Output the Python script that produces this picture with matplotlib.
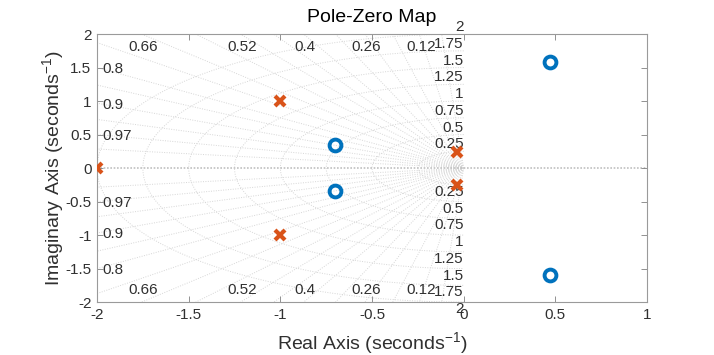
import numpy as np
import matplotlib
matplotlib.use('Agg')
import matplotlib.pyplot as plt

plt.rcParams['font.family'] = ['Liberation Sans', 'DejaVu Sans']
plt.rcParams['mathtext.default'] = 'regular'

# poles and zeros
pole_re = [-2.0, -1.0, -1.0, -0.035, -0.035]
pole_im = [0.0, 1.0, -1.0, 0.245, -0.245]
zero_re = [-0.7, -0.7, 0.47, 0.47]
zero_im = [0.34, -0.34, 1.59, -1.59]

# grid values
zeta_lab = [0.97, 0.9, 0.8, 0.66, 0.52, 0.4, 0.26, 0.12]
zeta_extra = [0.06, 0.19, 0.33, 0.46, 0.59, 0.73, 0.85, 0.94, 0.99]
wn_lab = [0.25, 0.5, 0.75, 1, 1.25, 1.5, 1.75, 2]

xlo, xhi, ylo, yhi = -2, 1, -2, 2
gridc = '#d6d6d6'
txtc = '#303030'

fig = plt.figure(figsize=(7.14, 3.55), dpi=100)
ax = fig.add_axes([0.1359, 0.149, 0.7703, 0.755])

# frequency arcs
th = np.linspace(np.pi / 2, 3 * np.pi / 2, 200)
for w in wn_lab:
    ax.plot(w * np.cos(th), w * np.sin(th), ls=(0, (1, 1.5)), color=gridc, lw=0.7, zorder=1)

# damping lines
for z in zeta_lab + zeta_extra:
    t = np.tan(np.arccos(z))
    xe = -2.0
    ye = -xe * t
    if ye > 2:
        ye = 2.0
        xe = -ye / t
    for s in (1, -1):
        ax.plot([0, xe], [0, s * ye], ls=(0, (1, 1.5)), color=gridc, lw=0.7, zorder=1)

# real axis line
ax.axhline(0, ls=(0, (1, 1)), color='#c0c0c0', lw=1.2, zorder=1)

# damping labels
for z in zeta_lab:
    t = np.tan(np.arccos(z))
    if 2 * t <= 2:
        yv = 2 * t
        for s in (1, -1):
            ax.annotate(f'{z:g}', (-2, s * yv), xytext=(4, -1), textcoords='offset points',
                        ha='left', va='center', fontsize=11, color=txtc)
    else:
        xv = -2 / t
        for s in (1, -1):
            ax.annotate(f'{z:g}', (xv, s * 2), xytext=(1, -4 * s), textcoords='offset points',
                        ha='center', va='top' if s > 0 else 'bottom', fontsize=11, color=txtc)

# frequency labels
for w in wn_lab:
    ax.text(0, w, f'{w:g}', ha='right', va='bottom', fontsize=11, color=txtc, clip_on=False)
    ax.text(0, -w, f'{w:g}', ha='right', va='top', fontsize=11, color=txtc, clip_on=False)

ax.plot(zero_re, zero_im, 'o', ms=8.5, mfc='none', mec='#0072BD', mew=2.8, zorder=5)
ax.plot(pole_re, pole_im, 'x', ms=7.5, mec='#D95319', mew=3, zorder=5)

ax.set_xlim(xlo, xhi)
ax.set_ylim(ylo, yhi)
ax.set_xticks(np.arange(-2, 1.01, 0.5))
ax.set_yticks(np.arange(-2, 2.01, 0.5))
ax.set_xticklabels([f'{v:g}' for v in np.arange(-2, 1.01, 0.5)])
ax.set_yticklabels([f'{v:g}' for v in np.arange(-2, 2.01, 0.5)])
ax.tick_params(direction='in', top=True, right=True, length=4, width=0.6,
               colors='#808080', labelcolor=txtc, labelsize=11, pad=4)
for sp in ax.spines.values():
    sp.set_color('#9a9a9a')
    sp.set_linewidth(0.8)

ax.set_title('Pole-Zero Map', fontsize=14, color='black', pad=9)
ax.set_xlabel('Real Axis (seconds$^{-1}$)', fontsize=14, color=txtc)
ax.set_ylabel('Imaginary Axis (seconds$^{-1}$)', fontsize=14, color=txtc)
ax.xaxis.set_label_coords(0.5, -0.104)
ax.yaxis.set_label_coords(-0.056, 0.5)

fig.savefig('out.png', dpi=100)
